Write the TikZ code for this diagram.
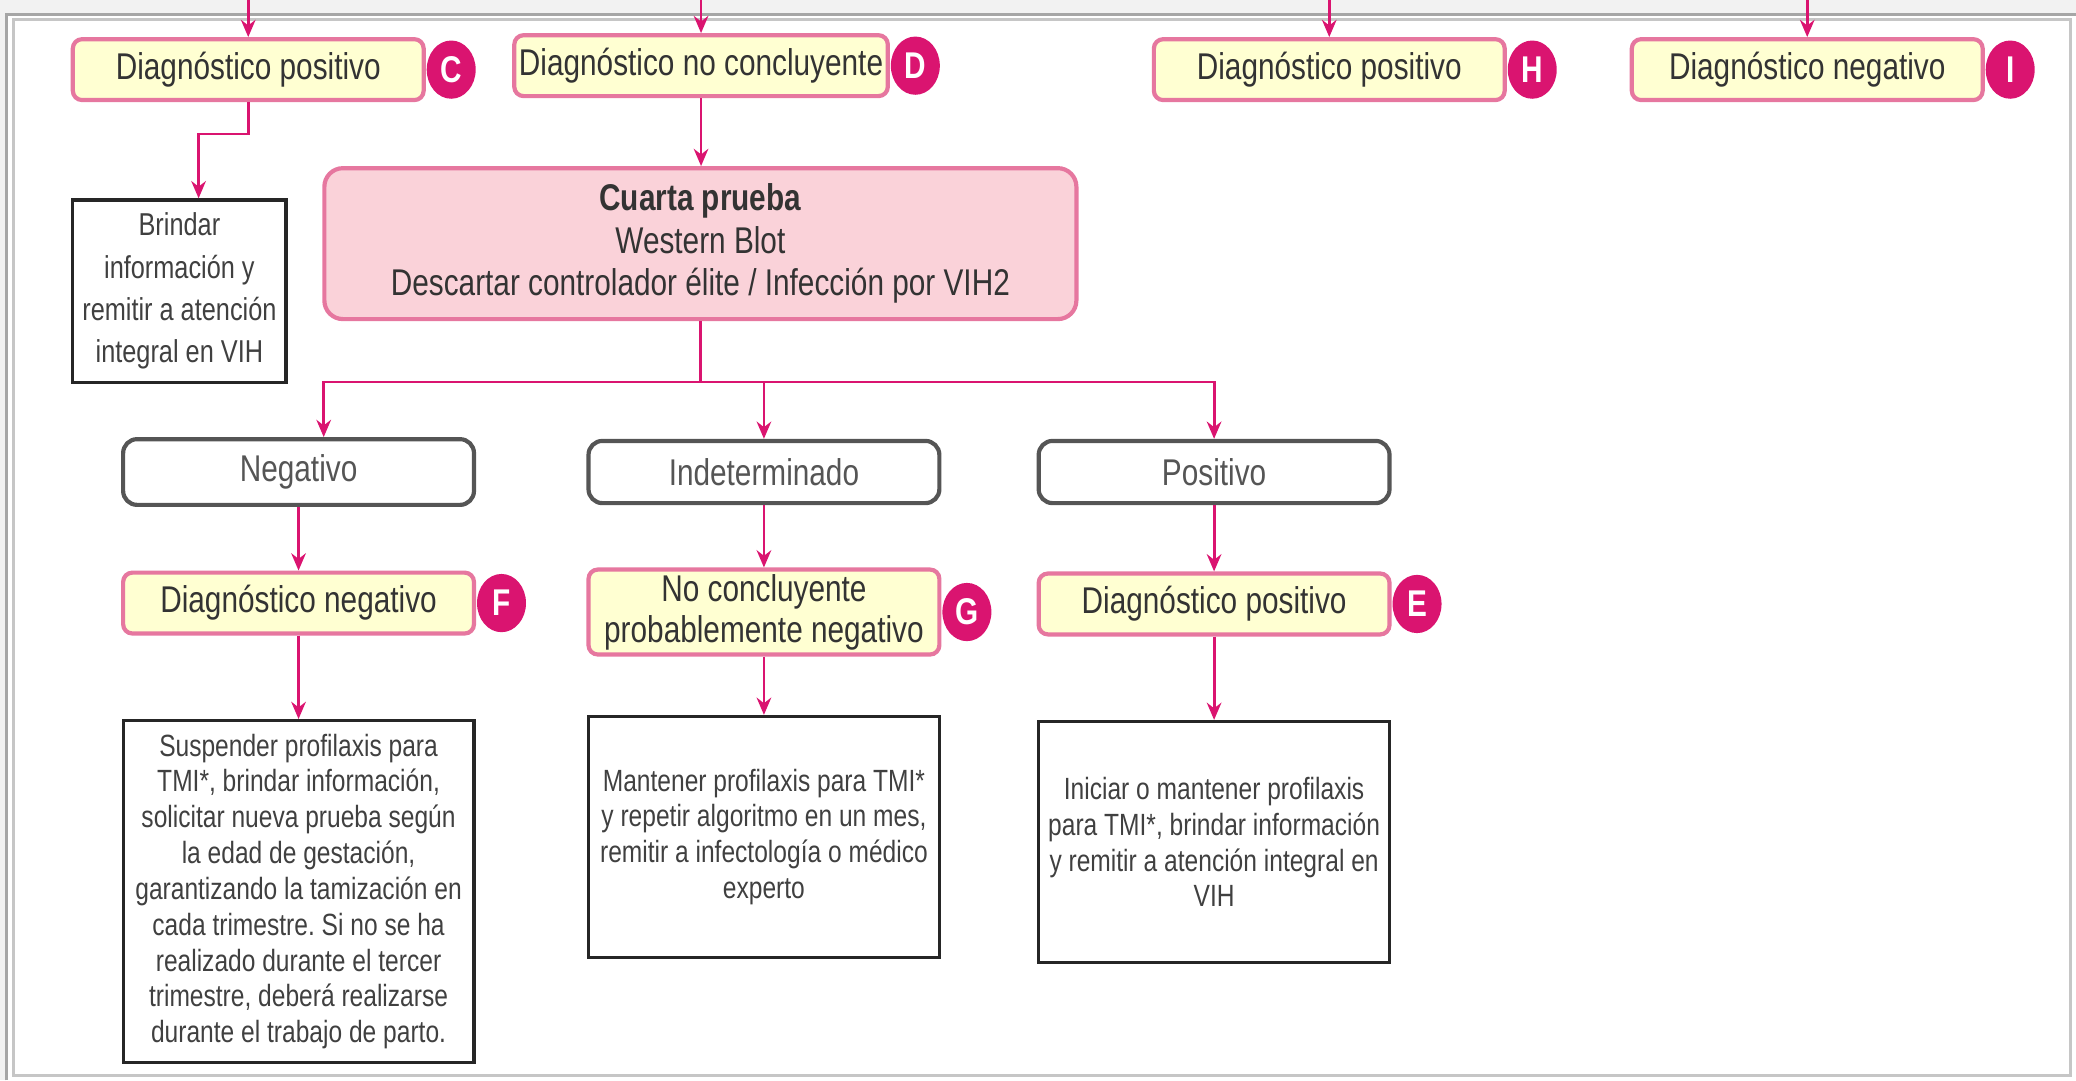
\documentclass[tikz,border=0pt]{standalone}
\usepackage{fontspec}
\setmainfont{Liberation Sans}[FakeStretch=0.8]
\usepackage{xcolor}
\usepackage{tikz}
\usetikzlibrary{calc}
\usetikzlibrary{positioning}
\usetikzlibrary{shapes.geometric, arrows.meta}
\frenchspacing
\definecolor{vihpink}{HTML}{DA1470}
\definecolor{diagfill}{HTML}{FFFFD2}
\definecolor{diagline}{HTML}{E6779F}
\definecolor{testfill}{HTML}{FAD2D9}
\definecolor{textgray}{HTML}{555555}
\tikzstyle{diag} = [draw=diagline, fill=diagfill,
	line width=0.9pt,
	rounded corners=2pt,
	minimum width=2.65cm,
	minimum height=0.46cm,
	inner xsep=1pt, inner ysep=1pt,
	align=center, text=black!80,
	font=\fontsize{8}{8.8}\selectfont]
\tikzstyle{badge} = [ellipse, fill=vihpink, text=white,
	minimum width=0.37cm,
	minimum height=0.44cm,
	inner sep=0pt,
	font=\fontsize{8}{9}\selectfont\bfseries]
\tikzstyle{result} = [draw=textgray, line width=0.9pt,
	rounded corners=3pt,
	minimum width=2.65cm,
	minimum height=0.47cm,
	text=textgray,
	font=\fontsize{8}{9}\selectfont]
\tikzstyle{test} = [draw=diagline, fill=testfill, line width=0.9pt,
	rounded corners=0.14cm,
	minimum width=5.68cm,
	minimum height=1.14cm,
	align=center, text=black!80,
	font=\fontsize{8}{9.1}\selectfont]
\tikzstyle{note} = [draw=black!85, line width=0.7pt,
	minimum width=2.65cm,
	inner sep=1pt,
	align=center, text=black!75,
	font=\fontsize{6.6}{7.7}\selectfont]
\tikzstyle{arrow} = [-{Stealth[length=1.3mm, width=1.1mm]}, vihpink, line width=0.6pt]
\newcommand{\drawdiag}[4]{\node (#1) [diag, anchor=north] at #2 {#3};
	\node (#1L) [badge, right=0cm of #1] {#4}}

\begin{document}
\begin{tikzpicture}
		
			\useasboundingbox (0,0) rectangle (15.68,-8.16);
			\fill [gray!10] (0,0) rectangle (15.68,-0.11);
			\fill [gray!10] (0,0) rectangle (0.04,-8.16);
			\draw [gray!70, line width=0.8pt] (0.05,-8.16) -- (0.05,-0.11) -- (15.68,-0.11);
			\draw [gray!45, line width=0.6pt] (0.10,-8.12) -- (0.10,-0.15) -- (15.64,-0.15) -- (15.64,-8.12) -- cycle;
			\coordinate (topline) at (0,0);
			
			\drawdiag{dC}{(1.875,-0.28)}{Diagnóstico positivo}{C};
			\drawdiag{dD}{(5.295,-0.25)}{Diagnóstico no concluyente}{D};
			\drawdiag{dH}{(10.04,-0.28)}{Diagnóstico positivo}{H};
			\drawdiag{dI}{(13.65,-0.28)}{Diagnóstico negativo}{I};
			\draw [arrow] (dC.north |- topline) -- (dC.north);
			\draw [arrow] (dD.north |- topline) -- (dD.north);
			\draw [arrow] (dH.north |- topline) -- (dH.north);
			\draw [arrow] (dI.north |- topline) -- (dI.north);
			
			\node (brindar) [note, minimum width=1.61cm, minimum height=1.38cm,
				font=\fontsize{6.8}{9.1}\selectfont] at (1.355,-2.2)
				{Brindar\\información y\\remitir a atención\\integral en VIH};
			\draw [arrow] (dC.south) -- ++(0,-0.24) -| ($(brindar.north) + (0.145,0)$);
			
			\node (cuarta) [test] at (5.29,-1.84) {\textbf{Cuarta prueba}\\Western Blot\\Descartar controlador élite / Infección por VIH2};
			\draw [arrow] (dD.south) -- (dD.south |- cuarta.north);
			
			\node (neg) [result] at (2.255,-3.565) {Negativo};
			\node (indet) [result] at (5.77,-3.565) {Indeterminado};
			\node (posit) [result] at (9.17,-3.565) {Positivo};
			\draw [arrow] (cuarta.south) -- ++(0,-0.46) -| ($(neg.north) + (0.19,0)$);
			\draw [arrow] (cuarta.south) -- ++(0,-0.46) -| (indet.north);
			\draw [arrow] (cuarta.south) -- ++(0,-0.46) -| (posit.north);
			
			\drawdiag{fneg}{($(neg.south) + (0,-0.48)$)}{Diagnóstico negativo}{F};
			\drawdiag{gnc}{($(indet.south) + (0,-0.47)$)}{No concluyente\\probablemente negativo}{G};
			\drawdiag{epos}{($(posit.south) + (0,-0.50)$)}{Diagnóstico positivo}{E};
			\draw [arrow] (neg) -- (fneg);
			\draw [arrow] (indet) -- (gnc);
			\draw [arrow] (posit) -- (epos);
			
			\node (susp) [note, minimum height=2.58cm, below=0.63cm] at (fneg.south)
				{Suspender profilaxis para\\TMI*, brindar información,\\solicitar nueva prueba según\\la edad de gestación,\\garantizando la tamización en\\cada trimestre. Si no se ha\\realizado durante el tercer\\trimestre, deberá realizarse\\durante el trabajo de parto.};
			\node (mant) [note, minimum height=1.82cm, below=0.44cm] at (gnc.south)
				{Mantener profilaxis para TMI*\\y repetir algoritmo en un mes,\\remitir a infectología o médico\\experto};
			\node (inic) [note, minimum height=1.82cm, below=0.63cm] at (epos.south)
				{Iniciar o mantener profilaxis\\para TMI*, brindar información\\y remitir a atención integral en\\VIH};
			\draw [arrow] (fneg) -- (susp);
			\draw [arrow] (gnc) -- (mant);
			\draw [arrow] (epos) -- (inic);
		\end{tikzpicture}
\end{document}
